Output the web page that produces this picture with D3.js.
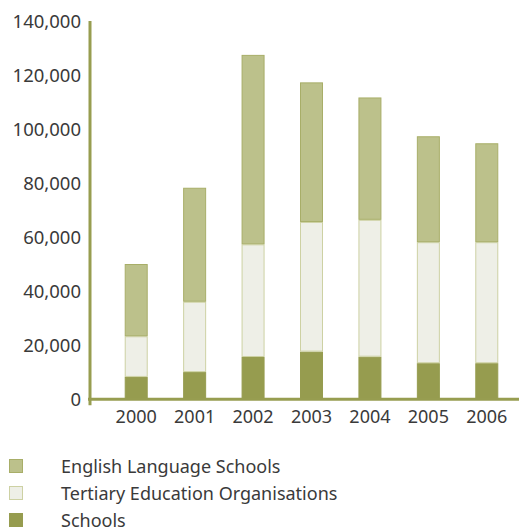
<!DOCTYPE html>
<html><head><meta charset="utf-8">
<script src="https://cdn.jsdelivr.net/npm/d3@7"></script>
<style>body{margin:0;background:#fff}svg{display:block}text{font-family:"Noto Sans",sans-serif}</style>
</head><body><svg id="c" width="519" height="531"></svg>
<script>
const years = ["2000","2001","2002","2003","2004","2005","2006"];
const schools = [8300, 10100, 15700, 17700, 15800, 13400, 13400];
const tertiary = [15100, 26100, 41800, 48100, 50800, 44900, 44900];
const english = [26800, 42300, 70300, 51800, 45400, 39300, 36700];
const seriesNames = ["Schools","Tertiary Education Organisations","English Language Schools"];
const yTicks = [0,20000,40000,60000,80000,100000,120000,140000];

const fills = {"Schools":"#969c4f","Tertiary Education Organisations":"#eeefe7","English Language Schools":"#bcc18b"};
const strokes = {"Schools":"#969c4f","Tertiary Education Organisations":"#cdd1a3","English Language Schools":"#a8ae68"};
const axisColor = "#979d50";
const textColor = "#3a3a3a";

const svg = d3.select("#c");
const x = d3.scaleBand().domain(years).range([107,516]).paddingInner(0.6).paddingOuter(0.3);
const y = d3.scaleLinear().domain([0,140000]).range([399.3,22]);

const table = years.map((yr,i)=>({year:yr,"Schools":schools[i],"Tertiary Education Organisations":tertiary[i],"English Language Schools":english[i]}));
const stack = d3.stack().keys(seriesNames)(table);

const bw = 23;
stack.forEach(layer=>{
  svg.append("g").selectAll("rect").data(layer).join("rect")
    .attr("x", d=>x(d.data.year)+x.bandwidth()/2-bw/2+0.5)
    .attr("width", bw-1)
    .attr("y", d=>y(d[1])+0.5)
    .attr("height", d=>Math.max(0,y(d[0])-y(d[1])-1))
    .attr("fill", fills[layer.key])
    .attr("stroke", strokes[layer.key])
    .attr("stroke-width",1);
});

// y axis
const yAxis = svg.append("g").attr("transform","translate(90,0)")
  .call(d3.axisLeft(y).tickValues(yTicks).tickFormat(d3.format(",")).tickSize(5).tickPadding(4));
yAxis.select(".domain").remove();
yAxis.selectAll(".tick line").attr("stroke",axisColor).attr("stroke-width",3).attr("x2",0);
yAxis.selectAll(".tick text").attr("fill",textColor).style("font-size","18.5px").attr("dy","0.32em");
svg.append("line").attr("x1",90).attr("x2",90).attr("y1",y(140000)-1).attr("y2",y(0)+6)
  .attr("stroke",axisColor).attr("stroke-width",3);
// x axis baseline
svg.append("line").attr("x1",88).attr("x2",519).attr("y1",y(0)).attr("y2",y(0))
  .attr("stroke",axisColor).attr("stroke-width",3);
const xAxis = svg.append("g").attr("transform",`translate(0,${y(0)})`)
  .call(d3.axisBottom(x).tickSize(0).tickPadding(11));
xAxis.select(".domain").remove();
xAxis.selectAll(".tick text").attr("fill",textColor).style("font-size","18px");

// legend
const legendOrder = ["English Language Schools","Tertiary Education Organisations","Schools"];
const lg = svg.append("g");
legendOrder.forEach((k,i)=>{
  const yy = 459.5 + i*27;
  lg.append("rect").attr("x",9.5).attr("y",yy).attr("width",13).attr("height",13)
    .attr("fill",fills[k]).attr("stroke",strokes[k]);
  lg.append("text").attr("x",61).attr("y",yy+7).attr("dy","0.35em")
    .attr("fill",textColor).style("font-size","18px").text(k);
});
</script></body></html>
